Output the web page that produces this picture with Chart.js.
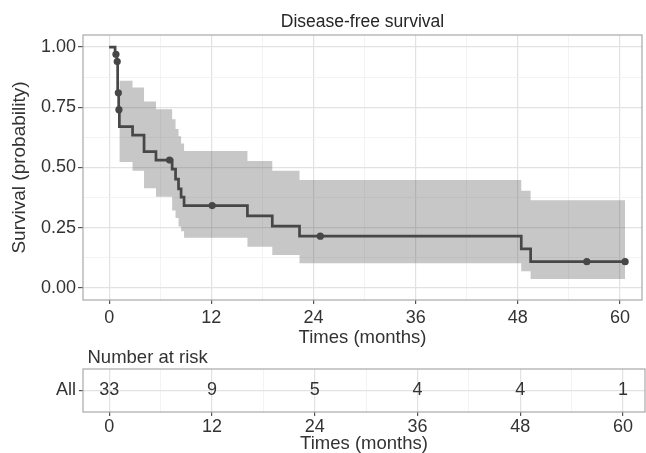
<!DOCTYPE html>
<html><head><meta charset="utf-8">
<script src="https://cdn.jsdelivr.net/npm/chart.js@4.4.1/dist/chart.umd.min.js"></script>
<style>
html,body{margin:0;padding:0;background:#fff;overflow:hidden;width:646px;height:453px}
.box{position:absolute;left:0;width:646px;overflow:hidden}
</style></head><body>
<div class="box" style="top:0;height:350px"><canvas id="c1" width="646" height="350"></canvas></div>
<div class="box" style="top:350px;height:103px"><canvas id="c2" width="646" height="106"></canvas></div>
<script>
// ---- text ----
const chartTitle = 'Disease-free survival';
const xTitle = 'Times (months)';
const yTitle = 'Survival (probability)';
const riskTitle = 'Number at risk';
const strataLabels = ['All'];
// ---- ticks ----
const xTickValues = [0, 6, 12, 18, 24, 30, 36, 42, 48, 54, 60];
const xTickLabels = ['0', '', '12', '', '24', '', '36', '', '48', '', '60'];
const yTickValues = [0, 0.125, 0.25, 0.375, 0.5, 0.625, 0.75, 0.875, 1];
const yTickLabels = ['0.00', '', '0.25', '', '0.50', '', '0.75', '', '1.00'];
// ---- Kaplan-Meier curve (time of step, survival after step) ----
const times = [0, 0.7, 0.9, 1.0, 1.12, 1.2, 2.75, 4.1, 5.5, 7.4, 7.8, 8.15, 8.45, 8.8, 16.24, 19.16, 22.36, 48.4, 49.5, 60.6];
const surv  = [1, 0.97, 0.94, 0.81, 0.74, 0.67, 0.634, 0.566, 0.531, 0.493, 0.452, 0.411, 0.377, 0.342, 0.299, 0.257, 0.215, 0.162, 0.109, 0.109];
// ---- confidence band ----
const bandTimes = [1.2, 2.75, 4.1, 5.5, 7.4, 7.8, 8.15, 8.45, 8.8, 16.24, 19.16, 22.36, 48.4, 49.5, 60.6];
const upper = [0.86, 0.832, 0.774, 0.742, 0.70, 0.66, 0.63, 0.60, 0.569, 0.527, 0.486, 0.448, 0.404, 0.364, 0.364];
const lower = [0.523, 0.486, 0.414, 0.379, 0.322, 0.29, 0.255, 0.235, 0.208, 0.171, 0.137, 0.103, 0.069, 0.037, 0.037];
// ---- censoring marks ----
const censorTimes = [0.8, 0.95, 1.08, 1.15, 7.1, 12.1, 24.8, 56.1, 60.6];
const censorSurv  = [0.97, 0.94, 0.81, 0.74, 0.531, 0.342, 0.215, 0.109, 0.109];
// ---- risk table ----
const riskTimes = [0, 12, 24, 36, 48, 60];
const riskCounts = [33, 9, 5, 4, 4, 1];

const FONT = '"Liberation Sans", Arial, Helvetica, sans-serif';
Chart.defaults.font.family = FONT;
Chart.defaults.color = '#333';
const LINE = '#474747';
const xMin = -3.07, xMax = 62.58;

function isMajorX(i){ return xTickLabels[i] !== ''; }
function isMajorY(i){ return yTickLabels[i] !== ''; }

function xScale(height, labelPad){
  return {
    type: 'linear', min: xMin, max: xMax, bounds: 'data',
    afterBuildTicks: s => { s.ticks = xTickValues.map(v => ({value: v})); },
    afterFit: s => { s.height = height; },
    ticks: { autoSkip: false, maxRotation: 0, padding: labelPad, color: '#333',
      font: {size: 18}, callback: (v, i) => xTickLabels[i] },
    grid: { drawOnChartArea: true, tickLength: 4,
      color: c => isMajorX(c.index) ? '#e2e2e2' : '#f0f0f0',
      lineWidth: c => isMajorX(c.index) ? 1.2 : 0.8,
      tickColor: c => isMajorX(c.index) ? '#555' : 'rgba(0,0,0,0)', tickWidth: 1.2 },
    border: { display: false },
    title: { display: true, text: xTitle, color: '#333', font: {size: 18.5}, padding: {top: 0, bottom: 0.9} }
  };
}

const panelBorder = {
  id: 'panelBorder',
  afterDatasetsDraw(chart){
    const {ctx, chartArea: a} = chart;
    ctx.save();
    ctx.strokeStyle = '#a8a8a8'; ctx.lineWidth = 1.2;
    ctx.strokeRect(a.left, a.top, a.right - a.left, a.bottom - a.top);
    ctx.restore();
  }
};
const mainTitle = {
  id: 'mainTitle',
  afterDraw(chart){
    const {ctx, chartArea: a} = chart;
    ctx.save();
    ctx.font = '17.5px ' + FONT; ctx.fillStyle = '#262626';
    ctx.textAlign = 'center'; ctx.textBaseline = 'middle';
    ctx.fillText(chartTitle, (a.left + a.right) / 2, 22);
    ctx.restore();
  }
};

new Chart(document.getElementById('c1'), {
  type: 'line',
  data: {
    datasets: [
      { label: 'curve', data: times.map((t, i) => ({x: t, y: surv[i]})), stepped: true,
        borderColor: LINE, borderWidth: 2.7, pointRadius: 0, fill: false },
      { label: 'censor', data: censorTimes.map((t, i) => ({x: t, y: censorSurv[i]})), showLine: false,
        pointRadius: 3.6, pointBackgroundColor: LINE, pointBorderColor: LINE, pointBorderWidth: 0 },
      { label: 'upper', data: bandTimes.map((t, i) => ({x: t, y: upper[i]})), stepped: true,
        borderWidth: 0, borderColor: 'rgba(0,0,0,0)', pointRadius: 0, fill: false },
      { label: 'lower', data: bandTimes.map((t, i) => ({x: t, y: lower[i]})), stepped: true,
        borderWidth: 0, borderColor: 'rgba(0,0,0,0)', pointRadius: 0, fill: '-1',
        backgroundColor: 'rgba(68,68,68,0.3)' }
    ]
  },
  options: {
    responsive: false, animation: false, devicePixelRatio: 1,
    layout: { padding: {top: 35, right: 1, left: 0, bottom: 0} },
    plugins: { legend: {display: false}, tooltip: {enabled: false}, title: {display: false} },
    scales: {
      x: xScale(50, 2.9),
      y: {
        type: 'linear', min: -0.05, max: 1.05, bounds: 'data',
        afterBuildTicks: s => { s.ticks = yTickValues.map(v => ({value: v})); },
        afterFit: s => { s.width = 83; },
        ticks: { autoSkip: false, padding: 2, color: '#333', font: {size: 18},
          callback: (v, i) => yTickLabels[i] },
        grid: { tickLength: 5,
          color: c => isMajorY(c.index) ? '#e2e2e2' : '#f0f0f0',
          lineWidth: c => isMajorY(c.index) ? 1.2 : 0.8,
          tickColor: c => isMajorY(c.index) ? '#555' : 'rgba(0,0,0,0)', tickWidth: 1.2 },
        border: { display: false },
        title: { display: true, text: yTitle, color: '#333', font: {size: 19}, padding: {top: 8.6, bottom: 0} }
      }
    }
  },
  plugins: [panelBorder, mainTitle]
});

const riskText = {
  id: 'riskText',
  afterDatasetsDraw(chart){
    const {ctx, chartArea: a} = chart;
    const meta = chart.getDatasetMeta(0);
    ctx.save();
    ctx.font = '18px ' + FONT; ctx.fillStyle = '#333';
    ctx.textAlign = 'center'; ctx.textBaseline = 'middle';
    meta.data.forEach((pt, i) => ctx.fillText(String(riskCounts[i]), pt.x, pt.y));
    ctx.textAlign = 'left';
    ctx.font = '18.5px ' + FONT;
    ctx.fillText(riskTitle, a.left + 4.5, 8);
    ctx.restore();
  }
};

new Chart(document.getElementById('c2'), {
  type: 'line',
  data: {
    labels: strataLabels,
    datasets: [
      { label: 'risk', data: riskTimes.map(t => ({x: t, y: strataLabels[0]})), showLine: false, pointRadius: 0 }
    ]
  },
  options: {
    responsive: false, animation: false, devicePixelRatio: 1,
    layout: { padding: {top: 19, right: 1, left: 0, bottom: 0} },
    plugins: { legend: {display: false}, tooltip: {enabled: false} },
    scales: {
      x: xScale(44, 0),
      y: {
        type: 'category', labels: strataLabels, offset: true,
        afterFit: s => { s.width = 83; },
        ticks: { padding: 3, color: '#333', font: {size: 18} },
        grid: { offset: false, tickLength: 4, color: '#e2e2e2', lineWidth: 1.2, tickColor: '#555', tickWidth: 1.2 },
        border: { display: false }
      }
    }
  },
  plugins: [panelBorder, riskText]
});
</script>
</body></html>
